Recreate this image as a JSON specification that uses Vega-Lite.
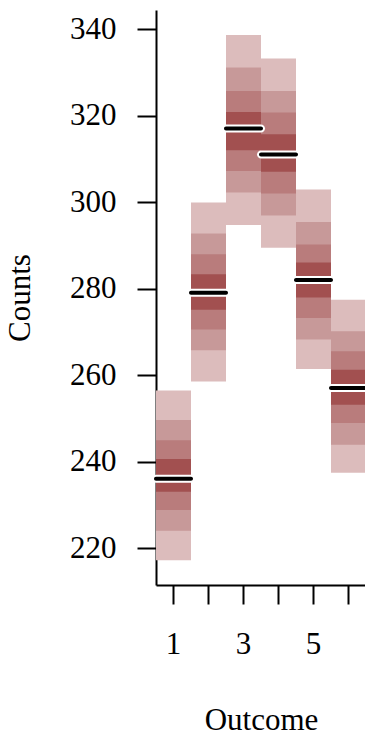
{
  "$schema": "https://vega.github.io/schema/vega-lite/v6.json",
  "autosize": "none",
  "width": 210,
  "height": 575,
  "padding": {"left": 156, "top": 10, "right": 0, "bottom": 153},
  "background": "white",
  "config": {
    "view": {"stroke": null},
    "font": "Liberation Serif",
    "axis": {
      "grid": false,
      "domainColor": "black",
      "domainWidth": 2,
      "tickColor": "black",
      "tickWidth": 2,
      "tickSize": 19,
      "labelFont": "Liberation Serif",
      "labelFontSize": 31,
      "labelColor": "black",
      "titleFont": "Liberation Serif",
      "titleFontSize": 31,
      "titleFontWeight": "normal",
      "titleColor": "black"
    }
  },
  "datasets": {
    "intervals": [
      {"outcome": 1, "level": "10-90%", "lo": 217.2, "hi": 256.4},
      {"outcome": 2, "level": "10-90%", "lo": 258.5, "hi": 299.9},
      {"outcome": 3, "level": "10-90%", "lo": 294.7, "hi": 338.6},
      {"outcome": 4, "level": "10-90%", "lo": 289.4, "hi": 333.2},
      {"outcome": 5, "level": "10-90%", "lo": 261.4, "hi": 302.9},
      {"outcome": 6, "level": "10-90%", "lo": 237.4, "hi": 277.4},
      {"outcome": 1, "level": "20-80%", "lo": 224.0, "hi": 249.6},
      {"outcome": 2, "level": "20-80%", "lo": 265.7, "hi": 292.7},
      {"outcome": 3, "level": "20-80%", "lo": 302.2, "hi": 331.1},
      {"outcome": 4, "level": "20-80%", "lo": 296.9, "hi": 325.7},
      {"outcome": 5, "level": "20-80%", "lo": 268.2, "hi": 295.4},
      {"outcome": 6, "level": "20-80%", "lo": 243.9, "hi": 270.1},
      {"outcome": 1, "level": "30-70%", "lo": 228.8, "hi": 244.9},
      {"outcome": 2, "level": "30-70%", "lo": 270.5, "hi": 287.9},
      {"outcome": 3, "level": "30-70%", "lo": 307.2, "hi": 325.7},
      {"outcome": 4, "level": "30-70%", "lo": 302.0, "hi": 320.7},
      {"outcome": 5, "level": "30-70%", "lo": 273.2, "hi": 290.2},
      {"outcome": 6, "level": "30-70%", "lo": 248.9, "hi": 265.5},
      {"outcome": 1, "level": "40-60%", "lo": 233.0, "hi": 240.6},
      {"outcome": 2, "level": "40-60%", "lo": 275.1, "hi": 283.3},
      {"outcome": 3, "level": "40-60%", "lo": 312.0, "hi": 320.8},
      {"outcome": 4, "level": "40-60%", "lo": 307.0, "hi": 315.7},
      {"outcome": 5, "level": "40-60%", "lo": 277.9, "hi": 286.0},
      {"outcome": 6, "level": "40-60%", "lo": 253.1, "hi": 261.2}
    ],
    "observed": [
      {"outcome": 1, "count": 236},
      {"outcome": 2, "count": 279},
      {"outcome": 3, "count": 317},
      {"outcome": 4, "count": 311},
      {"outcome": 5, "count": 282},
      {"outcome": 6, "count": 257}
    ]
  },
  "encoding": {
    "x": {
      "field": "outcome",
      "type": "ordinal",
      "title": "Outcome",
      "scale": {"domain": [1, 2, 3, 4, 5, 6], "paddingInner": 0, "paddingOuter": 0},
      "axis": {
        "labelAngle": 0,
        "labelPadding": 25,
        "titlePadding": 46,
        "labelExpr": "(+datum.value) % 2 == 1 ? datum.label : ''"
      }
    }
  },
  "layer": [
    {
      "data": {"name": "intervals"},
      "mark": {"type": "bar", "strokeWidth": 0},
      "encoding": {
        "y": {
          "field": "lo",
          "type": "quantitative",
          "title": "Counts",
          "scale": {"domain": [211.45, 344.4], "nice": false, "zero": false},
          "axis": {"values": [220, 240, 260, 280, 300, 320, 340], "labelPadding": 21, "titlePadding": 33}
        },
        "y2": {"field": "hi"},
        "color": {
          "field": "level",
          "type": "nominal",
          "scale": {
            "domain": ["10-90%", "20-80%", "30-70%", "40-60%"],
            "range": ["#DCBCBC", "#C79999", "#B97C7C", "#A25050"]
          },
          "legend": null
        }
      }
    },
    {
      "data": {"name": "observed"},
      "mark": {"type": "tick", "color": "white", "opacity": 1, "thickness": 8, "size": 43, "cornerRadius": 4},
      "encoding": {"y": {"field": "count", "type": "quantitative"}}
    },
    {
      "data": {"name": "observed"},
      "mark": {"type": "tick", "color": "black", "opacity": 1, "thickness": 4, "size": 39, "cornerRadius": 2},
      "encoding": {"y": {"field": "count", "type": "quantitative"}}
    }
  ]
}
